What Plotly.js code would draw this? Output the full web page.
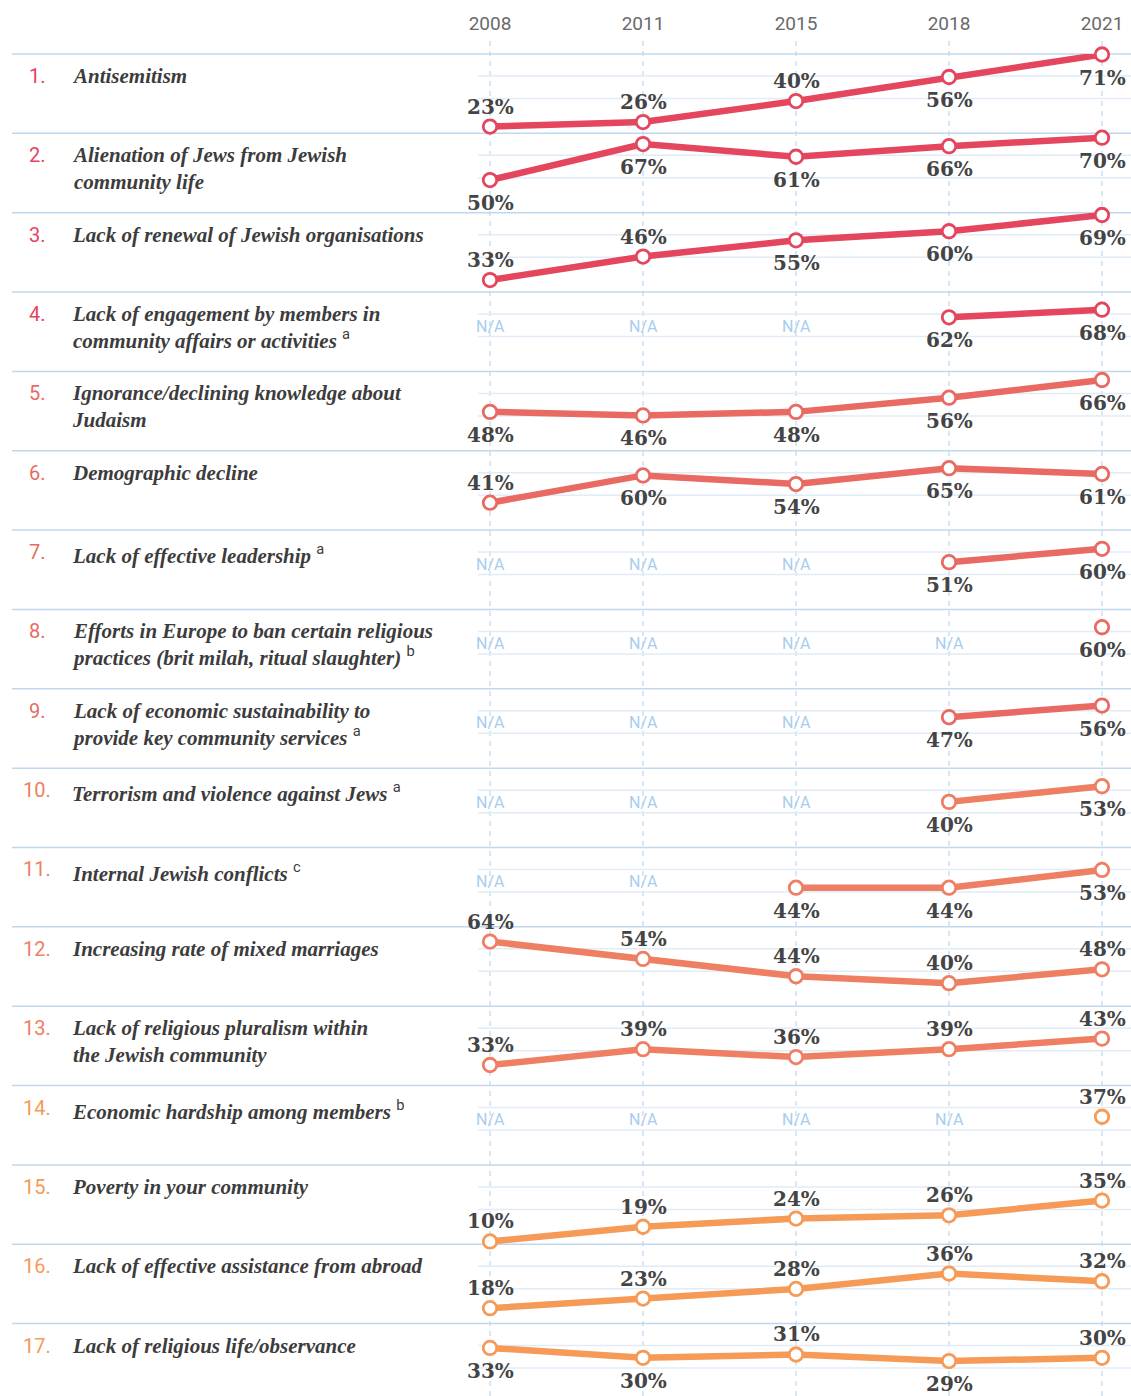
<!DOCTYPE html>
<html>
<head>
<meta charset="utf-8">
<script src="https://cdn.plot.ly/plotly-3.0.1.min.js"></script>
<style>
html,body{margin:0;padding:0;background:#fff;}
#chart{width:1131px;height:1396px;}
</style>
</head>
<body>
<div id="chart"></div>
<script>
// ---------- DATA ----------
const years = ['2008', '2011', '2015', '2018', '2021'];

const issues = [
  'Antisemitism',
  'Alienation of Jews from Jewish<br>community life',
  'Lack of renewal of Jewish organisations',
  'Lack of engagement by members in<br>community affairs or activities',
  'Ignorance/declining knowledge about<br>Judaism',
  'Demographic decline',
  'Lack of effective leadership',
  'Efforts in Europe to ban certain religious<br>practices (brit milah, ritual slaughter)',
  'Lack of economic sustainability to<br>provide key community services',
  'Terrorism and violence against Jews',
  'Internal Jewish conflicts',
  'Increasing rate of mixed marriages',
  'Lack of religious pluralism within<br>the Jewish community',
  'Economic hardship among members',
  'Poverty in your community',
  'Lack of effective assistance from abroad',
  'Lack of religious life/observance'
];
const notes = ['', '', '', 'a', '', '', 'a', 'b', 'a', 'a', 'c', '', '', 'b', '', '', ''];

const antisemitism       = [23, 26, 40, 56, 71];
const alienation         = [50, 67, 61, 66, 70];
const lackRenewal        = [33, 46, 55, 60, 69];
const lackEngagement     = [null, null, null, 62, 68];
const ignorance          = [48, 46, 48, 56, 66];
const demographic        = [41, 60, 54, 65, 61];
const leadership         = [null, null, null, 51, 60];
const banPractices       = [null, null, null, null, 60];
const economicSustain    = [null, null, null, 47, 56];
const terrorism          = [null, null, null, 40, 53];
const internalConflicts  = [null, null, 44, 44, 53];
const mixedMarriages     = [64, 54, 44, 40, 48];
const pluralism          = [33, 39, 36, 39, 43];
const economicHardship   = [null, null, null, null, 37];
const poverty            = [10, 19, 24, 26, 35];
const assistanceAbroad   = [18, 23, 28, 36, 32];
const religiousLife      = [33, 30, 31, 29, 30];

const series = [antisemitism, alienation, lackRenewal, lackEngagement, ignorance,
  demographic, leadership, banPractices, economicSustain, terrorism, internalConflicts,
  mixedMarriages, pluralism, economicHardship, poverty, assistanceAbroad, religiousLife];

// ---------- LAYOUT / STYLE CONFIG ----------
const W = 1131, H = 1396, TOP0 = 54, ROWH = 79.35;
const rowColors = ['#e4465e', '#e4465e', '#e4465e', '#e4465e',
  '#e86a62', '#e86a62', '#e86a62', '#e86a62', '#e86a62',
  '#ee7f62', '#ee7f62', '#ee7f62', '#ee7f62',
  '#f59b55', '#f69a57', '#f69a57', '#f69a57'];
// per-row y-axis ranges (visual scale of each mini chart)
const rowRanges = [[18.47, 71.33], [34.56, 72.06], [26.36, 70.27], [19.4, 81.9], [26.05, 70.85],
  [21.94, 77.16], [19.0, 72.67], [18.93, 71.8], [7.45, 68.97], [2.24, 67.9], [24.1, 64.4],
  [26.7, 72.5], [25.23, 55.26], [4.93, 57.8], [8.3, 56.8], [9.96, 51.24], [18.42, 40.36]];
// label side per point: 'T' above, 'B' below
const labelSide = [
  ['T','T','T','B','B'], ['B','B','B','B','B'], ['T','T','B','B','B'], ['B','B','B','B','B'],
  ['B','B','B','B','B'], ['T','B','B','B','B'], ['B','B','B','B','B'], ['B','B','B','B','B'],
  ['B','B','B','B','B'], ['B','B','B','B','B'], ['B','B','B','B','B'], ['T','T','T','T','T'],
  ['T','T','T','T','T'], ['T','T','T','T','T'], ['T','T','T','T','T'], ['T','T','T','T','T'],
  ['B','B','T','B','T']];

const traces = [];
const annotations = [];
const shapes = [];
const layout = {
  width: W, height: H,
  margin: {l: 0, r: 0, t: 0, b: 0},
  paper_bgcolor: '#fff', plot_bgcolor: 'rgba(0,0,0,0)',
  showlegend: false,
  xaxis: {
    type: 'category', categoryarray: years, range: [-490 / 153, (W - 490) / 153],
    side: 'top', anchor: 'y', showgrid: false, zeroline: false, showline: false,
    ticks: '', ticklabelstandoff: 19,
    tickfont: {family: 'Roboto, sans-serif', size: 19, color: '#6a6a6a'},
    fixedrange: true
  }
};

// vertical dashed year guides
years.forEach((y, k) => {
  shapes.push({type: 'line', layer: 'below', xref: 'x', yref: 'paper', x0: k, x1: k,
    y0: 0, y1: 1 - 40 / H, line: {color: '#bcd7ee', width: 1.2, dash: '5px,5px'}});
});

series.forEach((vals, i) => {
  const topPx = TOP0 + ROWH * i;
  const botPx = Math.min(H, topPx + ROWH);
  const ax = i === 0 ? 'yaxis' : 'yaxis' + (i + 1);
  const ref = i === 0 ? 'y' : 'y' + (i + 1);
  layout[ax] = {
    domain: [1 - botPx / H, 1 - topPx / H],
    range: rowRanges[i], visible: false, fixedrange: true
  };
  const hPx = botPx - topPx;

  // row separator
  shapes.push({type: 'line', layer: 'below', xref: 'paper', yref: 'paper',
    x0: 12 / W, x1: 1, y0: 1 - topPx / H, y1: 1 - topPx / H,
    line: {color: '#bfd8ee', width: 1.5}});
  // faint inner guides
  [22, 44.5].forEach(off => {
    shapes.push({type: 'line', layer: 'below', xref: 'paper', yref: 'paper',
      x0: 478 / W, x1: 1, y0: 1 - (topPx + off) / H, y1: 1 - (topPx + off) / H,
      line: {color: '#e1ecf7', width: 1.5}});
  });

  traces.push({
    type: 'scatter', mode: 'lines+markers',
    x: years, y: vals, xaxis: 'x', yaxis: ref,
    connectgaps: false, cliponaxis: false, hoverinfo: 'skip',
    line: {color: rowColors[i], width: 6.5},
    marker: {size: 13.5, color: '#fff', line: {color: rowColors[i], width: 2.8}}
  });

  vals.forEach((v, k) => {
    if (v == null) {
      // N/A marker text
      annotations.push({xref: 'x', yref: ref + ' domain', x: k, y: 1 - 34 / hPx,
        text: 'N/A', showarrow: false, xanchor: 'center', yanchor: 'middle',
        font: {family: 'Roboto, sans-serif', size: 16, color: '#a9cdee'}});
    } else {
      // value label
      const up = labelSide[i][k] === 'T';
      annotations.push({xref: 'x', yref: ref, x: k, y: v,
        text: v + '%', showarrow: false, xanchor: 'center', yanchor: 'middle',
        yshift: up ? 20 : -23,
        font: {family: 'DejaVu Serif, serif', size: 20, color: '#444', weight: 'bold'}});
    }
  });

  // row number
  annotations.push({xref: 'paper', yref: 'paper', x: 37 / W, y: 1 - (topPx + 22) / H,
    text: (i + 1) + '.', showarrow: false, xanchor: 'center', yanchor: 'middle',
    font: {family: 'Roboto, sans-serif', size: 20, color: rowColors[i]}});
  // issue label
  const note = notes[i] ? ' <span style="font-style:normal;font-weight:normal;font-family:Roboto">' +
    '<sup>' + notes[i] + '</sup></span>' : '';
  annotations.push({xref: 'paper', yref: 'paper', x: 70 / W, y: 1 - (topPx + 8) / H,
    text: issues[i] + note, showarrow: false, xanchor: 'left', yanchor: 'top', align: 'left',
    font: {family: 'Liberation Serif, serif', size: 21, color: '#3c3c3c', style: 'italic', weight: 'bold'}});
});

layout.shapes = shapes;
layout.annotations = annotations;

Plotly.newPlot('chart', traces, layout, {staticPlot: true, displayModeBar: false});
</script>
</body>
</html>
